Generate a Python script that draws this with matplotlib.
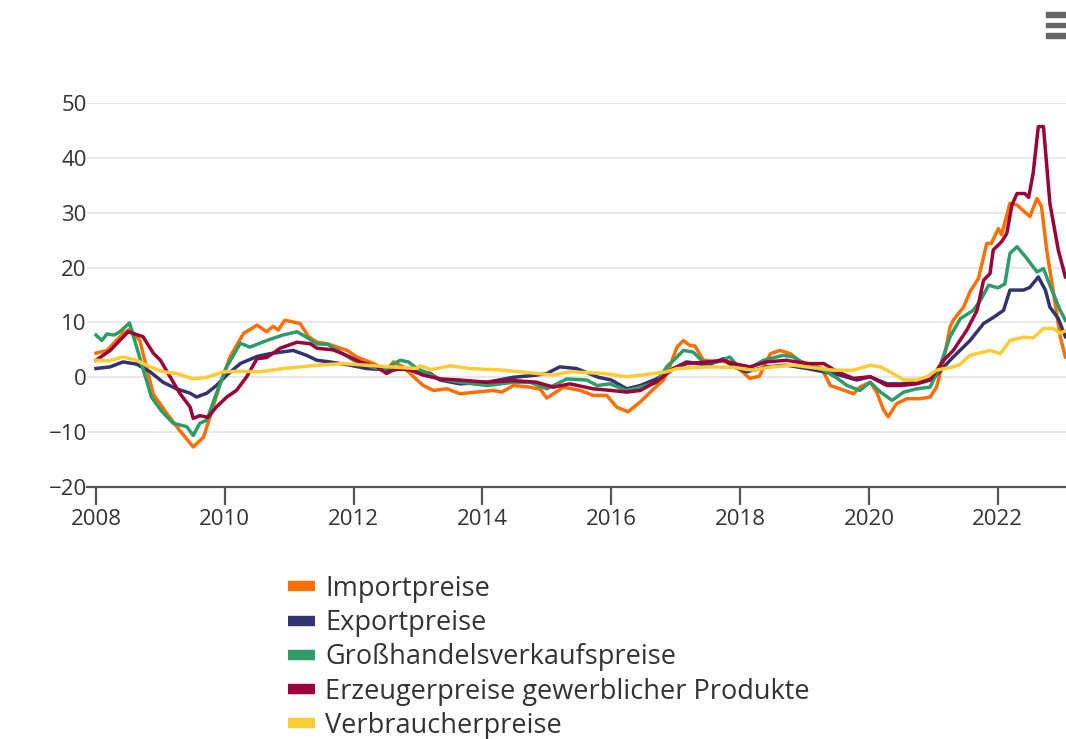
import matplotlib
matplotlib.use("Agg")
import matplotlib.pyplot as plt
from matplotlib.lines import Line2D
from matplotlib.patches import Rectangle

plt.rcParams['font.family'] = ['Open Sans', 'DejaVu Sans']

# Veraenderung gegenueber Vorjahresmonat in %, x als Jahr mit Bruchteil
import_x = [2008.0, 2008.17, 2008.42, 2008.53, 2008.68, 2008.89, 2009.1, 2009.3, 2009.51, 2009.67,
            2009.77, 2009.93, 2010.08, 2010.29, 2010.5, 2010.65, 2010.75, 2010.83, 2010.93, 2011.17,
            2011.3, 2011.43, 2011.6, 2011.74, 2011.9, 2012.05, 2012.31, 2012.51, 2012.62, 2012.77,
            2012.93, 2013.08, 2013.24, 2013.45, 2013.65, 2013.9, 2014.17, 2014.3, 2014.48, 2014.74,
            2014.9, 2015.0, 2015.1, 2015.26, 2015.52, 2015.72, 2015.93, 2016.08, 2016.26, 2016.45,
            2016.65, 2016.81, 2016.91, 2017.02, 2017.12, 2017.22, 2017.3, 2017.43, 2017.6, 2017.75,
            2017.95, 2018.15, 2018.3, 2018.47, 2018.62, 2018.78, 2018.93, 2019.12, 2019.27, 2019.4,
            2019.55, 2019.76, 2019.86, 2020.02, 2020.12, 2020.23, 2020.3, 2020.43, 2020.59, 2020.8,
            2020.95, 2021.05, 2021.16, 2021.26, 2021.31, 2021.47, 2021.57, 2021.7, 2021.83, 2021.9,
            2022.01, 2022.06, 2022.19, 2022.3, 2022.5, 2022.61, 2022.68, 2022.76, 2022.86, 2022.97,
            2023.05]
import_y = [4.4, 4.9, 8.0, 8.8, 6.7, -3.1, -6.6, -9.7, -12.7, -10.9,
            -7.2, -1.1, 3.7, 8.0, 9.5, 8.3, 9.3, 8.6, 10.4, 9.8,
            7.4, 6.4, 6.1, 5.5, 4.9, 3.7, 2.5, 1.3, 2.8, 1.9,
            0.1, -1.5, -2.4, -2.1, -3.0, -2.7, -2.4, -2.7, -1.5, -1.8,
            -2.2, -3.8, -3.0, -1.8, -2.4, -3.3, -3.3, -5.4, -6.3, -4.5,
            -2.2, -0.5, 2.0, 5.5, 6.7, 5.8, 5.7, 3.1, 2.9, 2.9,
            1.9, -0.2, 0.2, 4.3, 4.9, 4.3, 2.9, 2.3, 1.6, -1.5,
            -2.1, -3.0, -1.8, -0.9, -2.7, -6.0, -7.2, -4.8, -3.9, -3.9,
            -3.6, -1.8, 3.1, 9.2, 10.4, 12.8, 15.6, 18.0, 24.4, 24.4,
            27.1, 26.0, 31.7, 31.4, 29.3, 32.6, 31.1, 23.2, 15.9, 7.4,
            3.7]

export_x = [2008.0, 2008.22, 2008.42, 2008.63, 2008.84, 2009.04, 2009.25, 2009.46, 2009.56, 2009.72,
            2009.87, 2010.03, 2010.24, 2010.5, 2010.7, 2011.06, 2011.27, 2011.43, 2011.63, 2011.95,
            2012.2, 2012.56, 2012.88, 2013.19, 2013.34, 2013.65, 2014.07, 2014.48, 2014.84, 2015.0,
            2015.2, 2015.46, 2015.8, 2016.0, 2016.24, 2016.45, 2016.7, 2016.96, 2017.17, 2017.5,
            2017.74, 2017.9, 2018.1, 2018.41, 2018.72, 2019.04, 2019.3, 2019.55, 2019.81, 2020.02,
            2020.28, 2020.5, 2020.74, 2021.0, 2021.26, 2021.31, 2021.57, 2021.78, 2021.93, 2022.09,
            2022.19, 2022.4, 2022.5, 2022.63, 2022.74, 2022.81, 2022.94, 2023.05]
export_y = [1.6, 1.9, 2.8, 2.4, 1.0, -0.9, -2.1, -2.9, -3.6, -2.9,
            -1.5, 0.4, 2.5, 3.8, 4.3, 4.9, 4.0, 3.1, 2.8, 2.2,
            1.6, 1.3, 1.6, 0.7, -0.5, -1.2, -0.9, 0.0, 0.4, 0.7,
            1.9, 1.6, 0.0, -0.5, -2.1, -1.5, -0.3, 1.6, 2.8, 2.2,
            3.4, 1.9, 1.0, 1.9, 2.2, 1.6, 1.0, 0.4, -0.5, 0.1,
            -1.2, -1.2, -0.9, -0.2, 3.1, 3.7, 6.7, 9.8, 10.9, 12.2,
            15.9, 15.9, 16.4, 18.3, 15.9, 12.8, 10.7, 7.4]

gross_x = [2008.0, 2008.09, 2008.17, 2008.28, 2008.37, 2008.52, 2008.86, 2009.02, 2009.2, 2009.41,
           2009.51, 2009.61, 2009.72, 2009.87, 2010.03, 2010.24, 2010.39, 2010.65, 2010.9, 2011.12,
           2011.27, 2011.43, 2011.6, 2011.79, 2012.0, 2012.2, 2012.46, 2012.72, 2012.85, 2012.98,
           2013.19, 2013.34, 2013.65, 2014.07, 2014.48, 2014.74, 2015.0, 2015.31, 2015.62, 2015.78,
           2015.98, 2016.24, 2016.45, 2016.7, 2016.86, 2017.02, 2017.12, 2017.27, 2017.43, 2017.65,
           2017.84, 2017.95, 2018.1, 2018.36, 2018.67, 2018.83, 2019.04, 2019.3, 2019.51, 2019.66,
           2019.86, 2020.02, 2020.18, 2020.36, 2020.54, 2020.74, 2020.95, 2021.1, 2021.26, 2021.42,
           2021.62, 2021.73, 2021.86, 2022.0, 2022.11, 2022.19, 2022.3, 2022.45, 2022.61, 2022.71,
           2022.84, 2022.97, 2023.05]
gross_y = [7.7, 6.7, 7.9, 7.7, 8.3, 9.9, -3.6, -6.2, -8.4, -9.0,
           -10.6, -8.4, -7.8, -2.9, 1.9, 6.2, 5.5, 6.7, 7.7, 8.3,
           7.3, 6.1, 6.0, 4.6, 3.1, 2.2, 1.3, 3.1, 2.8, 1.6,
           0.5, -0.3, -0.9, -1.5, -0.9, -0.9, -2.1, -0.3, -0.5, -1.5,
           -1.2, -2.4, -1.8, -1.0, 1.9, 3.7, 4.9, 4.6, 2.8, 2.8,
           3.7, 2.2, 1.3, 3.1, 4.0, 3.7, 2.2, 1.3, -0.2, -1.5,
           -2.4, -0.9, -2.7, -4.2, -2.7, -2.1, -1.8, 1.9, 7.4, 10.7,
           12.2, 14.0, 16.8, 16.3, 17.0, 22.6, 23.8, 21.7, 19.2, 19.8,
           15.9, 12.2, 10.4]

erzeuger_x = [2008.0, 2008.22, 2008.5, 2008.6, 2008.73, 2008.89, 2009.0, 2009.15, 2009.3, 2009.46,
              2009.51, 2009.61, 2009.74, 2009.87, 2010.03, 2010.18, 2010.34, 2010.5, 2010.65, 2010.86,
              2011.12, 2011.33, 2011.43, 2011.68, 2011.89, 2012.1, 2012.36, 2012.51, 2012.67, 2012.88,
              2013.08, 2013.34, 2013.65, 2014.07, 2014.48, 2014.84, 2015.1, 2015.36, 2015.72, 2016.0,
              2016.24, 2016.45, 2016.7, 2016.96, 2017.17, 2017.5, 2017.74, 2017.9, 2018.15, 2018.41,
              2018.72, 2019.04, 2019.3, 2019.51, 2019.76, 2020.02, 2020.28, 2020.5, 2020.74, 2020.95,
              2021.16, 2021.31, 2021.52, 2021.68, 2021.78, 2021.88, 2021.93, 2022.06, 2022.14, 2022.22,
              2022.3, 2022.42, 2022.48, 2022.55, 2022.63, 2022.71, 2022.81, 2022.94, 2023.05]
erzeuger_y = [3.1, 4.9, 8.3, 7.9, 7.4, 4.4, 3.1, 0.1, -2.9, -5.4,
              -7.5, -7.0, -7.3, -5.4, -3.6, -2.4, 0.1, 3.4, 3.6, 5.3,
              6.4, 6.1, 5.3, 5.0, 4.0, 2.8, 1.9, 0.7, 1.6, 1.3,
              0.4, -0.3, -0.5, -0.9, -0.6, -0.9, -1.8, -1.2, -2.1, -2.4,
              -2.7, -2.4, -0.8, 1.5, 2.5, 2.8, 3.1, 2.5, 1.9, 2.8,
              3.1, 2.5, 2.5, 1.0, -0.2, 0.1, -1.5, -1.5, -1.2, -0.5,
              3.1, 4.9, 8.6, 12.2, 17.7, 18.9, 23.2, 24.7, 26.2, 31.4,
              33.5, 33.5, 32.8, 37.2, 45.7, 45.7, 31.7, 23.2, 18.3]

vpi_x = [2008.0, 2008.2, 2008.42, 2008.63, 2008.84, 2009.04, 2009.25, 2009.51, 2009.72, 2009.98,
         2010.24, 2010.55, 2010.91, 2011.43, 2011.84, 2012.2, 2012.56, 2012.98, 2013.03, 2013.2,
         2013.5, 2013.8, 2014.32, 2014.84, 2015.1, 2015.36, 2015.88, 2016.24, 2016.6, 2016.86,
         2017.02, 2017.5, 2017.9, 2018.2, 2018.5, 2018.83, 2019.1, 2019.45, 2019.76, 2020.02,
         2020.18, 2020.39, 2020.54, 2020.74, 2020.9, 2021.05, 2021.31, 2021.42, 2021.57, 2021.88,
         2022.04, 2022.19, 2022.4, 2022.55, 2022.71, 2022.86, 2022.97, 2023.05]
vpi_y = [3.1, 3.0, 3.7, 3.1, 1.9, 1.0, 0.7, -0.3, 0.0, 1.0,
         1.1, 1.0, 1.6, 2.2, 2.5, 2.2, 1.9, 1.6, 2.1, 1.4,
         2.1, 1.6, 1.3, 0.7, 0.4, 1.0, 0.7, 0.1, 0.6, 1.0,
         1.6, 1.9, 1.8, 1.3, 1.9, 2.2, 1.8, 1.3, 1.3, 2.2,
         1.9, 0.6, -0.5, -0.5, 0.1, 1.3, 1.9, 2.4, 4.0, 4.9,
         4.3, 6.7, 7.3, 7.2, 8.9, 8.9, 8.0, 8.5]

labels = ['Importpreise', 'Exportpreise', 'Großhandelsverkaufspreise',
          'Erzeugerpreise gewerblicher Produkte', 'Verbraucherpreise']
colors = ['#ff6f00', '#33336e', '#2e9c6a', '#9b0039', '#ffcc33']
year_ticks = [2008, 2010, 2012, 2014, 2016, 2018, 2020, 2022]
value_ticks = [-20, -10, 0, 10, 20, 30, 40, 50]

fig = plt.figure(figsize=(10.66, 7.39), dpi=100)
ax = fig.add_axes([0.0813, 0.341, 0.9187, 0.5196])

series = [(import_x, import_y), (export_x, export_y), (gross_x, gross_y),
          (erzeuger_x, erzeuger_y), (vpi_x, vpi_y)]
# Verbraucherpreise zuerst zeichnen, dann die anderen darueber
order = [4, 2, 1, 0, 3]
for i in order:
    x, y = series[i]
    ax.plot(x, y, color=colors[i], lw=2.5, solid_joinstyle='round', zorder=3 + i * 0.1)

ax.set_xlim(2007.855, 2023.06)
ax.set_ylim(-20, 50)
ax.set_xticks(year_ticks)
ax.set_yticks(value_ticks)
ax.set_xticklabels([str(t) for t in year_ticks])
ax.grid(axis='y', color='#e6e6e6', lw=1.3)
ax.set_axisbelow(True)
for s in ['top', 'right', 'left']:
    ax.spines[s].set_visible(False)
ax.spines['bottom'].set_color('#555555')
ax.spines['bottom'].set_linewidth(1.6)
ax.tick_params(axis='x', length=13, width=1.6, color='#555555', pad=3,
               labelsize=16, labelcolor='#333333')
ax.tick_params(axis='y', length=0, pad=0, labelsize=16, labelcolor='#333333')

handles = [Line2D([0], [0], color=c, lw=7.5, solid_capstyle='butt') for c in colors]
fig.legend(handles, labels, loc='upper left', bbox_to_anchor=(0.27, 0.222),
           frameon=False, fontsize=19.5, handlelength=1.0, handletextpad=0.38,
           labelspacing=0.23, borderpad=0, borderaxespad=0, labelcolor='#333333')

# Menue-Symbol oben rechts
for yb in [0.949, 0.963, 0.977]:
    fig.patches.append(Rectangle((0.981, yb), 0.02, 0.0065, transform=fig.transFigure,
                                 color='#666666', clip_on=False))

fig.savefig('out.png', dpi=100)
